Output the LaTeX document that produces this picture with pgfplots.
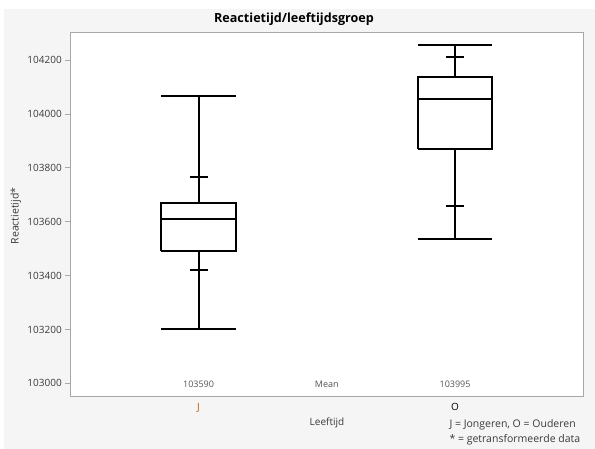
\documentclass[border=0pt]{standalone}
\usepackage{pgfplots}
\pgfplotsset{compat=1.18}
\usepackage{fontspec}
\setmainfont{Open Sans}
\definecolor{bg}{HTML}{F5F5F5}
\definecolor{frame}{HTML}{A8A8A8}
\definecolor{txt}{HTML}{3A3A3A}
\definecolor{meantxt}{HTML}{555555}
\definecolor{jcol}{HTML}{B8600A}
\begin{document}
\begin{tikzpicture}
\path[use as bounding box] (0pt,0pt) rectangle (595pt,449pt);
\fill[bg] (4pt,0pt) rectangle (595pt,440pt);
\begin{axis}[
  at={(70.3pt,53pt)}, anchor=south west,
  scale only axis, width=513pt, height=364pt,
  xmin=0.5, xmax=2.5,
  ymin=102953, ymax=104304,
  axis background/.style={fill=white},
  axis line style={frame, line width=0.8pt},
  xtick={1,2}, xticklabels={\textcolor{jcol}{J},O},
  x tick style={draw=none},
  x tick label style={font=\fontsize{10}{12}\selectfont, text=black, yshift=1pt},
  ytick={103000,103200,103400,103600,103800,104000,104200},
  ytick pos=left,
  scaled y ticks=false,
  y tick label style={font=\fontsize{10}{12}\selectfont, text=txt,
    /pgf/number format/fixed, /pgf/number format/precision=0},
  /pgf/number format/assume math mode=true,
  /pgf/number format/1000 sep={},
  ytick style={frame, line width=0.6pt},
  tick align=outside, major tick length=5pt,
  clip=false,
  bx/.style={black, line width=2pt, mark=none, solid},
]
% J: box, median, whiskers, caps, small ticks
\addplot[bx] coordinates {(0.855,103490) (1.145,103490) (1.145,103670) (0.855,103670) (0.855,103490)};
\addplot[bx] coordinates {(0.855,103609) (1.145,103609)};
\addplot[bx] coordinates {(1,103670) (1,104068)};
\addplot[bx] coordinates {(0.855,104068) (1.145,104068)};
\addplot[bx] coordinates {(1,103490) (1,103201)};
\addplot[bx] coordinates {(0.855,103201) (1.145,103201)};
\addplot[bx] coordinates {(0.965,103764) (1.035,103764)};
\addplot[bx] coordinates {(0.965,103421) (1.035,103421)};
% O
\addplot[bx] coordinates {(1.855,103868) (2.145,103868) (2.145,104137) (1.855,104137) (1.855,103868)};
\addplot[bx] coordinates {(1.855,104054) (2.145,104054)};
\addplot[bx] coordinates {(2,104137) (2,104256)};
\addplot[bx] coordinates {(1.855,104256) (2.145,104256)};
\addplot[bx] coordinates {(2,103868) (2,103536)};
\addplot[bx] coordinates {(1.855,103536) (2.145,103536)};
\addplot[bx] coordinates {(1.965,104211) (2.035,104211)};
\addplot[bx] coordinates {(1.965,103658) (2.035,103658)};
\node[font=\fontsize{9}{11}\selectfont, text=meantxt] at (axis cs:1,102997) {103590};
\node[font=\fontsize{9}{11}\selectfont, text=meantxt] at (axis cs:1.5,102997) {Mean};
\node[font=\fontsize{9}{11}\selectfont, text=meantxt] at (axis cs:2,102997) {103995};
\end{axis}
\node[font=\bfseries\fontsize{12.6}{14}\selectfont] at (294pt,430pt) {Reactietijd/leeftijdsgroep};
\node[rotate=90, font=\fontsize{10.5}{12}\selectfont, text=txt] at (16pt,233pt) {Reactietijd*};
\node[font=\fontsize{10}{12}\selectfont, text=txt] at (327pt,26pt) {Leeftijd};
\node[anchor=west, font=\fontsize{10.5}{12}\selectfont, text=txt] at (446pt,24pt) {J = Jongeren, O = Ouderen};
\node[anchor=west, font=\fontsize{10.5}{12}\selectfont, text=txt] at (446pt,9pt) {* = getransformeerde data};
\end{tikzpicture}
\end{document}
